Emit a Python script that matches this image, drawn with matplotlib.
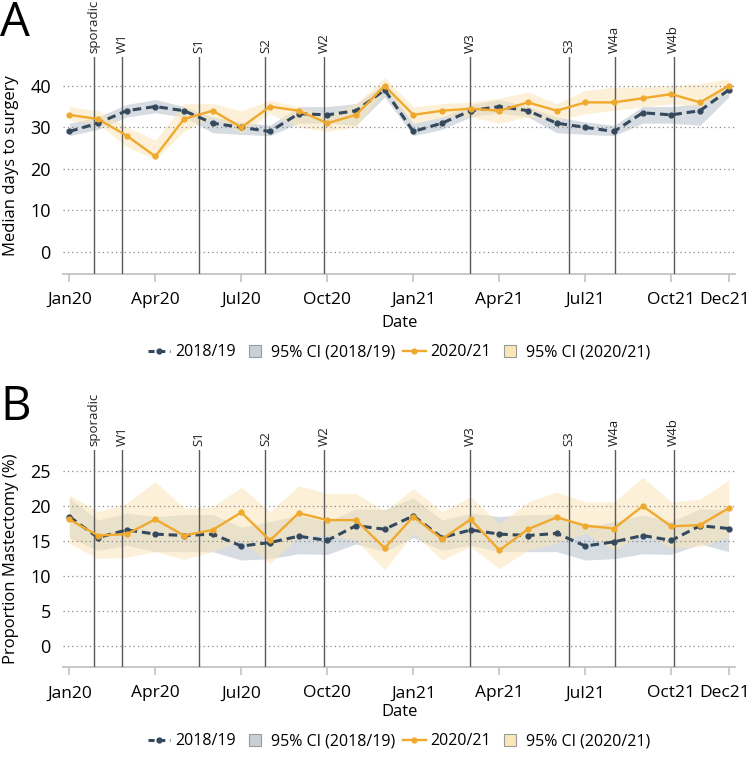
import matplotlib
matplotlib.use("Agg")
import matplotlib.pyplot as plt
from matplotlib.lines import Line2D
from matplotlib.transforms import ScaledTranslation
import numpy as np

plt.rcParams['font.family'] = ['Open Sans', 'DejaVu Sans']

# ---------------- data ----------------
months = list(range(24))  # Jan20 .. Dec21
tick_pos = [0, 3, 6, 9, 12, 15, 18, 21, 23]
tick_labels = ["Jan20", "Apr20", "Jul20", "Oct20", "Jan21", "Apr21", "Jul21", "Oct21", "Dec21"]

event_pos = [0.87, 1.85, 4.53, 6.84, 8.89, 13.97, 17.42, 19.02, 21.08]
event_labels = ["sporadic", "W1", "S1", "S2", "W2", "W3", "S3", "W4a", "W4b"]

# Panel A: median days to surgery
a_ref = [29, 31, 34, 35, 34, 31, 30, 29, 33.3, 33, 34, 39,
         29, 31, 34, 35, 34, 31, 30, 29, 33.5, 33, 34, 39]
a_ref_lo = [28.0, 29.5, 32.5, 33.5, 32.5, 28.7, 28.3, 28.0, 31.0, 31.0, 30.5, 37.3,
            28.0, 29.5, 32.5, 33.5, 32.5, 28.7, 28.3, 28.0, 31.0, 31.0, 30.5, 37.3]
a_ref_hi = [31.0, 32.5, 35.5, 36.7, 35.0, 32.5, 31.3, 30.5, 35.0, 35.0, 35.7, 40.5,
            31.0, 32.5, 35.5, 36.7, 35.0, 32.5, 31.3, 30.5, 35.0, 35.0, 35.7, 40.5]
a_cur = [33, 32, 28, 23, 32, 34, 30, 35, 34, 31, 33, 40,
         33, 34, 34.5, 34, 36, 34, 36, 36, 37, 38, 36, 40]
a_cur_lo = [31.7, 30.9, 25.3, 22.3, 29.0, 32.5, 28.6, 33.3, 30.1, 29.0, 30.1, 38.9,
            30.9, 32.5, 32.5, 31.0, 32.5, 31.7, 33.3, 34.1, 34.9, 35.7, 34.9, 38.5]
a_cur_hi = [35.0, 34.0, 30.1, 26.9, 35.7, 35.7, 34.0, 36.5, 34.9, 33.0, 35.7, 42.0,
            34.9, 35.7, 36.1, 37.0, 38.5, 35.7, 38.9, 39.7, 39.7, 40.0, 40.5, 41.7]

# Panel B: proportion mastectomy (%)
b_ref = [18.5, 15.5, 16.6, 16.0, 15.8, 16.0, 14.3, 14.8, 15.7, 15.1, 17.2, 16.7,
         18.6, 15.5, 16.6, 16.0, 15.8, 16.1, 14.3, 14.9, 15.8, 15.1, 17.2, 16.8]
b_ref_lo = [15.5, 13.7, 14.4, 13.5, 13.5, 13.5, 12.3, 12.5, 13.2, 13.1, 14.6, 13.5,
            15.5, 13.7, 14.4, 13.5, 13.5, 13.5, 12.3, 12.5, 13.2, 13.1, 14.6, 13.5]
b_ref_hi = [21.2, 18.0, 19.0, 18.5, 18.8, 18.8, 17.0, 17.8, 18.7, 17.8, 19.6, 19.5,
            21.2, 18.0, 19.0, 18.5, 18.8, 18.8, 17.0, 17.8, 18.7, 17.8, 19.6, 19.5]
b_cur = [18.1, 15.8, 16.0, 18.1, 15.8, 16.6, 19.1, 15.1, 19.0, 18.0, 18.0, 14.0,
         18.5, 15.3, 18.1, 13.7, 16.7, 18.4, 17.2, 16.8, 20.0, 17.1, 17.3, 19.7]
b_cur_lo = [14.7, 12.5, 12.7, 13.5, 12.4, 13.5, 15.1, 11.8, 15.6, 15.9, 15.1, 10.9,
            16.1, 12.3, 14.2, 11.1, 13.7, 14.7, 16.1, 13.7, 16.1, 14.0, 14.2, 15.6]
b_cur_hi = [21.6, 19.2, 20.4, 23.5, 19.7, 19.9, 22.7, 19.2, 22.9, 21.8, 21.8, 19.3,
            22.5, 19.2, 21.3, 17.5, 20.6, 22.0, 20.6, 20.6, 24.1, 20.6, 21.0, 23.7]

# ---------------- style ----------------
C_REF = "#34495e"
C_CUR = "#f0a92c"
F_REF = "#c9d1d8"
F_CUR = "#fbe6b8"

fig = plt.figure(figsize=(7.49, 7.57), dpi=100)
W, H = 749, 757
def axrect(l, t, r, b):
    return [l / W, 1 - b / H, (r - l) / W, (b - t) / H]

axA = fig.add_axes(axrect(63.3, 56.7, 735, 274))
axB = fig.add_axes(axrect(63.3, 450, 735, 667.3))

def draw(ax, ref, rlo, rhi, cur, clo, chi, ylim, yticks, ylabel):
    x = np.array(months)
    ax.fill_between(x, rlo, rhi, color=F_REF, alpha=0.75, lw=0, zorder=1)
    ax.fill_between(x, clo, chi, color=F_CUR, alpha=0.55, lw=0, zorder=1)
    ax.plot(x, ref, color=C_REF, lw=2.2, ls=(0, (2.8, 1.6)), marker='o', ms=3.5, zorder=4)
    ax.plot(x, cur, color=C_CUR, lw=1.7, marker='o', ms=3.5, zorder=5)
    for p, lab in zip(event_pos, event_labels):
        ax.axvline(p, color="#5a5a5a", lw=1.0, zorder=3)
        ax.text(p, ylim[1] + (ylim[1] - ylim[0]) * 0.018, lab, rotation=90, ha='center',
                va='bottom', fontsize=9.5, transform=ax.transData, color="#222222")
    ax.set_ylim(*ylim)
    ax.set_xlim(-0.21, 23.22)
    ax.set_yticks(yticks)
    ax.set_xticks(tick_pos)
    ax.set_xticklabels(tick_labels)
    ax.grid(axis='y', ls=(0, (1, 2.5)), color="#888888", lw=0.9, zorder=0)
    for s in ['left', 'right', 'top']:
        ax.spines[s].set_visible(False)
    ax.spines['bottom'].set_color("#c4c4c4")
    ax.spines['bottom'].set_linewidth(1.3)
    ax.tick_params(axis='y', length=0, pad=9, labelsize=13)
    ax.tick_params(axis='x', length=6, width=1.2, color="#c4c4c4", pad=7, labelsize=12.5)
    ax.set_xlabel("Date", fontsize=12)
    ax.set_ylabel(ylabel, fontsize=12)
    ax.yaxis.set_label_coords(-0.066, 0.5)
    # nudge the last tick label so it stays inside the canvas
    last = ax.get_xticklabels()[-1]
    last.set_transform(last.get_transform() + ScaledTranslation(-4 / 100, 0, fig.dpi_scale_trans))
    handles = [
        Line2D([], [], color=C_REF, lw=2.2, ls=(0, (2, 1.5)), marker='o', ms=3.5),
        Line2D([], [], ls='none', marker='s', ms=9, mfc=F_REF, mec="#9a9a9a", mew=0.8),
        Line2D([], [], color=C_CUR, lw=1.7, marker='o', ms=3.5),
        Line2D([], [], ls='none', marker='s', ms=9, mfc=F_CUR, mec="#9a9a9a", mew=0.8),
    ]
    labels = ["2018/19", "95% CI (2018/19)", "2020/21", "95% CI (2020/21)"]
    return handles, labels

h, l = draw(axA, a_ref, a_ref_lo, a_ref_hi, a_cur, a_cur_lo, a_cur_hi,
            (-5.3, 47), [0, 10, 20, 30, 40], "Median days to surgery")
axA.xaxis.set_label_coords(0.5, -0.19)
axA.legend(h, l, loc='center', bbox_to_anchor=(0.5, -0.36), ncol=4, frameon=False,
           fontsize=11.5, handlelength=1.4, handletextpad=0.3, columnspacing=0.5)

h, l = draw(axB, b_ref, b_ref_lo, b_ref_hi, b_cur, b_cur_lo, b_cur_hi,
            (-3.0, 28.0), [0, 5, 10, 15, 20, 25], "Proportion Mastectomy (%)")
axB.xaxis.set_label_coords(0.5, -0.17)
axB.legend(h, l, loc='center', bbox_to_anchor=(0.5, -0.34), ncol=4, frameon=False,
           fontsize=11.5, handlelength=1.4, handletextpad=0.3, columnspacing=0.5)

fig.text(0.0, 1 - 0 / H, "A", fontsize=34, va='top', ha='left')
fig.text(0.0, 1 - 384 / H, "B", fontsize=34, va='top', ha='left')

fig.savefig("out.png", dpi=100)
